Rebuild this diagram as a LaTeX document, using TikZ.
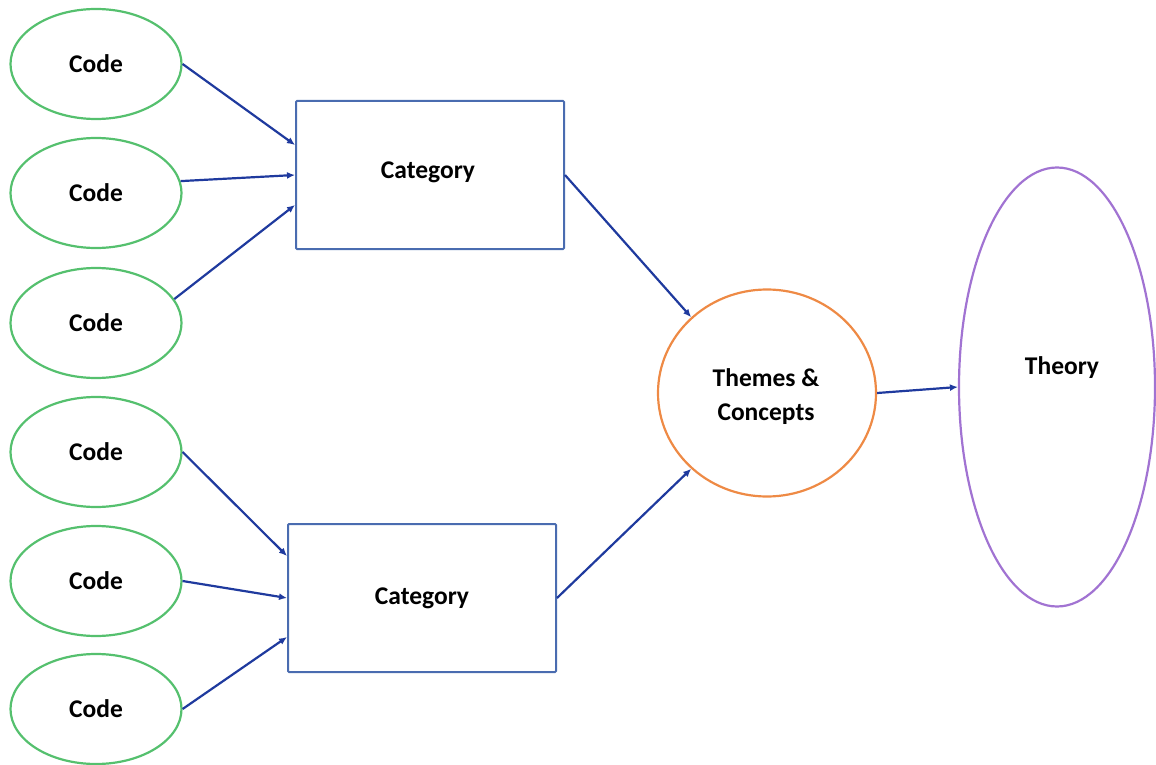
\documentclass[tikz,border=0pt]{standalone}
\usepackage{fontspec}
\setmainfont{Carlito}
\usetikzlibrary{shapes.geometric,arrows.meta,calc}
\definecolor{codegreen}{HTML}{55C06E}
\definecolor{catblue}{HTML}{4A6CB0}
\definecolor{themeorange}{HTML}{EE8A45}
\definecolor{theorypurple}{HTML}{A173D2}
\definecolor{linkblue}{HTML}{1F3A9E}
\tikzset{
  lbl/.style={font=\fontsize{25.5}{34}\selectfont\bfseries, text=black, align=center},
  codebox/.style={ellipse, draw=codegreen, line width=2.2pt, minimum width=171pt, minimum height=110pt, inner sep=0pt, lbl},
  catbox/.style={rectangle, draw=catblue, line width=2pt, rounded corners=1pt, minimum width=268pt, minimum height=148pt, inner sep=0pt, lbl},
  themebox/.style={ellipse, draw=themeorange, line width=2.2pt, minimum width=218pt, minimum height=207pt, inner sep=0pt, lbl},
  theorybox/.style={ellipse, draw=theorypurple, line width=2.2pt, minimum width=196pt, minimum height=439pt, inner sep=0pt},
  link/.style={draw=linkblue, line width=2.2pt, -{Latex[length=8pt,width=7pt]}}
}
\begin{document}
\begin{tikzpicture}[x=1pt,y=-1pt]
\useasboundingbox (0,0) rectangle (1156,765);
% codes
\node[codebox] (c1) at (96,64) {Code};
\node[codebox] (c2) at (96,193) {Code};
\node[codebox] (c3) at (96,323) {Code};
\node[codebox] (c4) at (96,452) {Code};
\node[codebox] (c5) at (96,581) {Code};
\node[codebox] (c6) at (96,709) {Code};
% categories
\node[catbox] (r1) at (430,175) {};
\node[lbl] (r1label) at (428,172) {Category};
\node[catbox] (r2) at (422,598) {Category};
% themes and theory
\node[themebox] (th) at (767,393) {};
\node[lbl] (thlabel) at (766,397) {Themes \&\\Concepts};
\node[theorybox] (ty) at (1057,387) {};
\node[lbl] (tylabel) at (1062,368) {Theory};
% links from codes to categories
\draw[link] (c1.east) -- ($(r1.north west)!0.30!(r1.south west)$);
\draw[link] (c2.8) -- (r1.west);
\draw[link] (c3.17) -- ($(r1.north west)!0.70!(r1.south west)$);
\draw[link] (c4.east) -- ($(r2.north west)!0.22!(r2.south west)$);
\draw[link] (c5.east) -- (r2.west);
\draw[link] (c6.east) -- ($(r2.north west)!0.76!(r2.south west)$);
% categories to themes, themes to theory
\draw[link] (r1.east) -- (th.135);
\draw[link] (r2.east) -- (th.225);
\draw[link] (th.east) -- (ty.west);
\end{tikzpicture}
\end{document}
